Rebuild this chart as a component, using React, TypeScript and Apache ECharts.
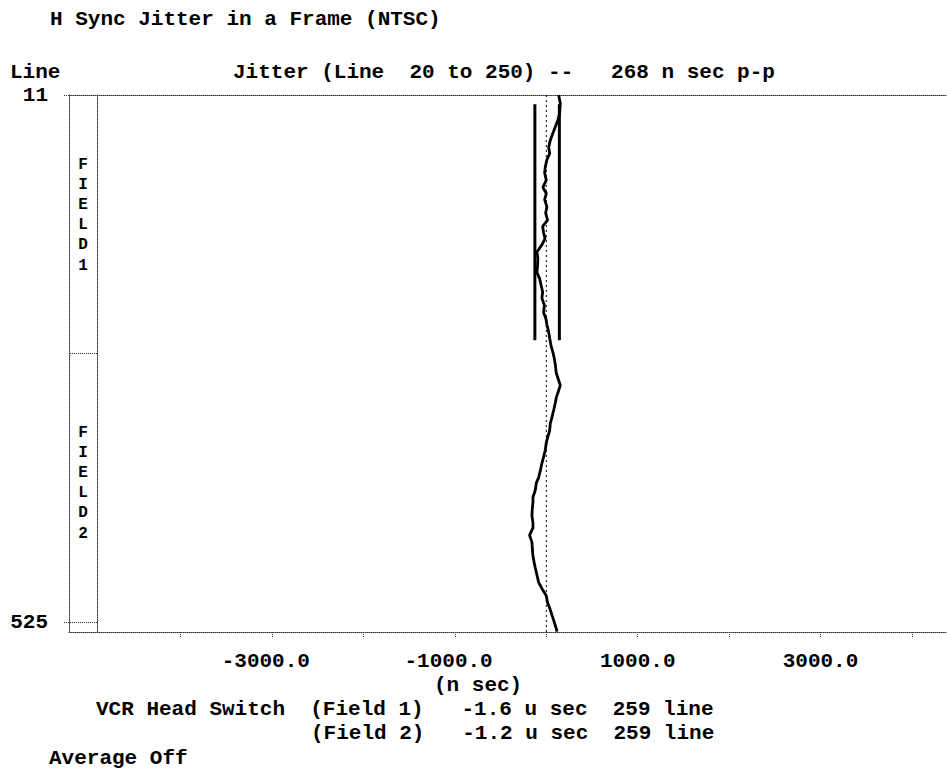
import { useEffect, useRef } from "react";
import * as echarts from "echarts";

// ---- data ----
const lineNumbers = [
  11, 19, 29, 35, 42, 48, 55, 62, 68, 74, 81, 87, 94, 101, 107, 113, 120, 126, 133, 139,
  145, 151, 157, 164, 170, 177, 184, 190, 196, 203, 209, 216, 223, 229, 235, 242, 248, 255,
  262, 268, 274, 282, 289, 294, 299, 306, 311, 318, 325, 331, 338, 345, 350, 357, 364, 370,
  377, 384, 389, 396, 403, 408, 414, 421, 428, 433, 440, 447, 453, 460, 467, 472, 479, 486,
  492, 499, 506, 511, 518, 525, 531, 534,
];
const jitterNs = [
  135, 153, 146, 128, 99, 73, 44, 26, 37, 7, -11, -18, 0, -37, 0, -18, 7, -7, 14, -40,
  -30, -14, -48, -102, -92, -95, -102, -73, -58, -40, -48, -21, -30, -4, 7, 26, 37, 51,
  73, 88, 99, 109, 135, 153, 135, 109, 99, 81, 62, 44, 37, 14, 0, -11, -30, -48,
  -65, -84, -109, -120, -146, -146, -153, -157, -146, -146, -183, -157, -153, -146, -132, -120, -102, -84,
  -48, 0, 14, 37, 62, 88, 109, 117,
];
const ppRangeNs = [-125, 143];
const ppLines = [20, 250];
const xTickValues = [-4000, -3000, -2000, -1000, 0, 1000, 2000, 3000, 4000];
const xLabelsNegative = [-3000, -1000];
const xLabelsPositive = [1000, 3000];
const yLabelValues = [11, 525];
const fieldBoundaries = [262.5, 525];
const xRange = [-5222, 4384];
const yRange = [11, 534.4];

const titleText = "H Sync Jitter in a Frame (NTSC)";
const lineHeader = "Line";
const jitterHeader = "Jitter (Line  20 to 250) --   268 n sec p-p";
const unitText = "(n sec)";
const headSwitch1 = "VCR Head Switch  (Field 1)   -1.6 u sec  259 line";
const headSwitch2 = "(Field 2)   -1.2 u sec  259 line";
const averageText = "Average Off";
const field1Letters = ["F", "I", "E", "L", "D", "1"];
const field2Letters = ["F", "I", "E", "L", "D", "2"];

const FONT = '"Liberation Mono", "Courier New", monospace';
const FS = 21;

export default function App() {
  const ref = useRef<HTMLDivElement>(null);
  useEffect(() => {
    if (!ref.current) return;
    const chart = echarts.init(ref.current, undefined, { renderer: "svg" });
    const dotted = { color: "#333", width: 1, type: [1, 1] as number[] };
    const labelStyle = {
      color: "#000",
      fontFamily: FONT,
      fontWeight: "bold" as const,
      fontSize: FS,
    };
    const txt = (text: string, x: number, y: number, size = FS, extra: any = {}) => ({
      type: "text",
      x,
      y,
      silent: true,
      style: {
        text,
        fill: "#000",
        font: `bold ${size}px ${FONT}`,
        textVerticalAlign: "middle",
        textAlign: "left",
        ...extra,
      },
    });
    const yBase = {
      type: "value",
      position: "left",
      inverse: true,
      min: yRange[0],
      max: yRange[1],
      splitLine: { show: false },
    };
    const xBase = {
      type: "value",
      min: xRange[0],
      max: xRange[1],
      splitLine: { show: false },
    };
    chart.setOption({
      animation: false,
      backgroundColor: "#fff",
      grid: { left: 69, right: 0, top: 95, bottom: 142, containLabel: false },
      xAxis: [
        {
          ...xBase,
          position: "bottom",
          axisLine: { show: true, onZero: false, lineStyle: dotted },
          axisTick: { show: true, customValues: xTickValues, length: 6, lineStyle: dotted },
          axisLabel: {
            show: true,
            customValues: xLabelsPositive,
            formatter: (v: number) => v.toFixed(1),
            margin: 19,
            ...labelStyle,
          },
        },
        {
          ...xBase,
          position: "bottom",
          axisLine: { show: false, onZero: false },
          axisTick: { show: false },
          axisLabel: {
            show: true,
            customValues: xLabelsNegative,
            formatter: (v: number) => v.toFixed(1),
            margin: 19,
            padding: [0, 12.6, 0, 0],
            ...labelStyle,
          },
        },
        {
          ...xBase,
          position: "top",
          axisLine: { show: true, onZero: false, lineStyle: dotted },
          axisTick: { show: false },
          axisLabel: { show: false },
        },
      ],
      yAxis: [
        {
          ...yBase,
          axisLine: { show: true, onZero: false, lineStyle: dotted },
          axisTick: { show: true, customValues: yLabelValues, length: 6, lineStyle: dotted },
          axisLabel: {
            show: true,
            customValues: yLabelValues,
            margin: 21,
            ...labelStyle,
          },
        },
        {
          ...yBase,
          offset: -28,
          axisLine: { show: true, onZero: false, lineStyle: dotted },
          axisTick: { show: true, customValues: fieldBoundaries, length: 28, lineStyle: dotted },
          axisLabel: { show: false },
        },
      ],
      series: [
        {
          type: "line",
          xAxisIndex: 0,
          yAxisIndex: 0,
          symbol: "none",
          data: [
            [0, yRange[0]],
            [0, yRange[1]],
          ],
          lineStyle: { color: "#000", width: 1, type: [2, 3] },
          silent: true,
        },
        {
          type: "line",
          xAxisIndex: 0,
          yAxisIndex: 0,
          symbol: "none",
          data: ppLines.map((l) => [ppRangeNs[0], l]),
          lineStyle: { color: "#000", width: 3 },
          silent: true,
        },
        {
          type: "line",
          xAxisIndex: 0,
          yAxisIndex: 0,
          symbol: "none",
          data: ppLines.map((l) => [ppRangeNs[1], l]),
          lineStyle: { color: "#000", width: 3 },
          silent: true,
        },
        {
          type: "line",
          xAxisIndex: 0,
          yAxisIndex: 0,
          symbol: "none",
          data: lineNumbers.map((l, i) => [jitterNs[i], l]),
          lineStyle: { color: "#000", width: 2.8 },
          silent: true,
        },
      ],
      graphic: [
        txt(titleText, 50, 19),
        txt(lineHeader, 10, 72),
        txt(jitterHeader, 233, 72),
        txt(unitText, 434, 685),
        txt(headSwitch1, 96, 709),
        txt(headSwitch2, 311, 733),
        txt(averageText, 49, 758),
        txt(field1Letters.join("\n"), 83, 215, 16, { textAlign: "center", lineHeight: 20.2 }),
        txt(field2Letters.join("\n"), 83, 483, 16, { textAlign: "center", lineHeight: 20.2 }),
      ],
    });
    return () => chart.dispose();
  }, []);
  return (
    <div
      ref={ref}
      style={{ position: "fixed", left: 0, top: 0, width: 947, height: 774, background: "#fff" }}
    />
  );
}
